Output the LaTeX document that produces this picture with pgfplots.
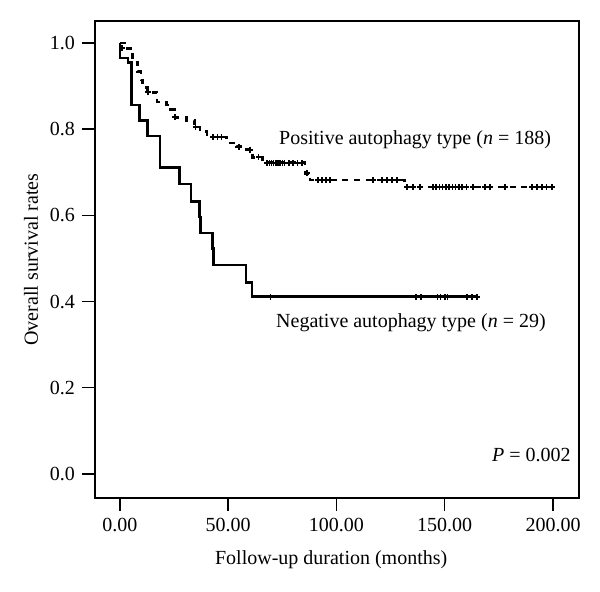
\documentclass[border=0pt]{standalone}
\usepackage{pgfplots}
\pgfplotsset{compat=1.18}
\usepackage{fontspec}
\setmainfont{Liberation Serif}
\begin{document}
\begin{tikzpicture}
\path[use as bounding box] (-47.5pt,-47pt) rectangle (252.5pt,249pt);
\begin{axis}[
  at={(0,0)}, anchor=south west,
  scale only axis,
  width=242pt, height=238.5pt,
  xmin=-11.5, xmax=212,
  ymin=-0.0557, ymax=1.051,
  xtick={0,50,100,150,200},
  ytick={0,0.2,0.4,0.6,0.8,1.0},
  xtick pos=bottom, ytick pos=left,
  tick align=outside,
  major tick length=6.5pt,
  axis line style={line width=0.7pt},
  every tick/.style={black, line width=0.7pt},
  /pgf/number format/assume math mode=true,
  xticklabel style={/pgf/number format/.cd, fixed, fixed zerofill, precision=2},
  yticklabel style={/pgf/number format/.cd, fixed, fixed zerofill, precision=1},
  tick label style={font=\fontsize{10}{12}\selectfont},
  xlabel={Follow-up duration (months)},
  ylabel={Overall survival rates},
  xlabel style={at={(axis description cs:0.488,-0.13)}, anchor=center, font=\fontsize{10}{12}\selectfont},
  ylabel style={at={(axis description cs:-0.132,0.5)}, anchor=center, rotate=0, font=\fontsize{10}{12}\selectfont},
  clip=false,
]
% Negative autophagy type (solid)
\addplot[const plot, black, line width=1.4pt, line join=miter] coordinates {
(0,1.0) (0,0.965) (3.7,0.954) (5.5,0.856) (9.2,0.821) (12.9,0.784)
(18.5,0.712) (27.7,0.673) (32.8,0.633) (36.8,0.596) (37.4,0.559)
(42.8,0.524) (43.2,0.485) (58.2,0.445) (61.0,0.411) (164.8,0.411)
};
\addplot[only marks, mark=+, mark size=1.4pt, black, line width=0.8pt] coordinates {
(69.6,0.411) (136.6,0.411) (138.9,0.411) (146.6,0.411) (148.1,0.411)
(150.1,0.411) (151.2,0.411) (160.4,0.411) (162.7,0.411) (164.8,0.411)
};
% Positive autophagy type (dashed)
\addplot[const plot, black, line width=1.4pt, dash pattern=on 3pt off 2.8pt] coordinates {
(0,1.0) (2.3,0.988) (6,0.956) (8.3,0.933) (9.7,0.914) (10.6,0.896)
(12.9,0.886) (17.1,0.863) (21.7,0.856) (22.2,0.845) (25.4,0.828)
(30.9,0.821) (34.6,0.805) (37,0.794) (40.2,0.787) (43,0.782)
(49.4,0.768) (54,0.759) (56.8,0.752) (61.4,0.735) (66,0.729)
(68.4,0.722) (85.5,0.698) (87.8,0.682) (131.6,0.666) (199.5,0.666)
};
\addplot[only marks, mark=+, mark size=1.4pt, black, line width=0.8pt] coordinates {
(1,0.988) (12.9,0.886) (25.4,0.828) (35,0.805) (43,0.782) (45,0.782) (47,0.782)
(55,0.759) (60,0.752) (64,0.735)
(68,0.722) (69,0.722) (70,0.722) (71,0.722) (72,0.722) (73,0.722) (74,0.722)
(75,0.722) (76,0.722) (78,0.722) (80,0.722) (82,0.722) (84,0.722)
(86.5,0.698)
(91.5,0.682) (93.3,0.682) (95.2,0.682) (97,0.682)
(116.9,0.682) (121,0.682) (123.3,0.682) (125.6,0.682) (128,0.682)
(132.6,0.666) (135.3,0.666) (138.6,0.666)
(144.5,0.666) (146,0.666) (147.5,0.666) (149,0.666) (150.5,0.666) (152,0.666)
(153.5,0.666) (155,0.666) (156.5,0.666) (158,0.666) (160,0.666)
(163,0.666) (168.6,0.666) (170.9,0.666) (177.8,0.666)
(190.3,0.666) (192.6,0.666) (195,0.666) (197,0.666) (199.5,0.666)
};
\node[font=\fontsize{10}{12}\selectfont, inner sep=0pt] at (axis cs:136.3,0.775) {Positive autophagy type (\textit{n} = 188)};
\node[font=\fontsize{10}{12}\selectfont, inner sep=0pt] at (axis cs:134.4,0.350) {Negative autophagy type (\textit{n} = 29)};
\node[font=\fontsize{10}{12}\selectfont, inner sep=0pt, anchor=east] at (axis cs:208.3,0.044) {\textit{P} = 0.002};
\end{axis}
\end{tikzpicture}
\end{document}
